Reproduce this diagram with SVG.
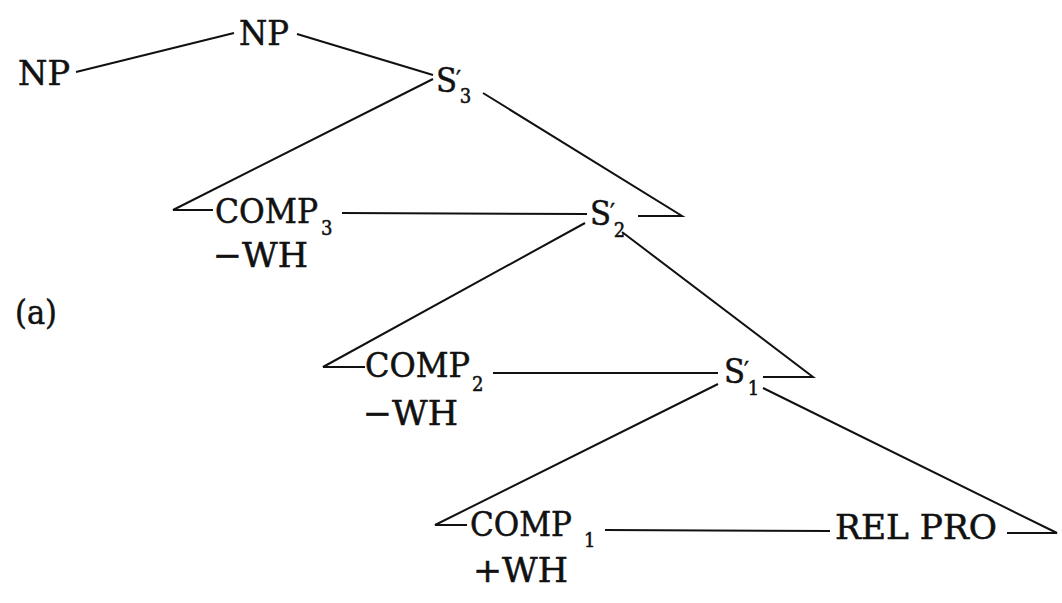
<svg xmlns="http://www.w3.org/2000/svg" width="1062" height="603" viewBox="0 0 1062 603">
  <style>
    text { font-family: "DejaVu Serif", "Liberation Serif", serif; font-stretch: condensed; fill: #111; stroke: #111; stroke-width: 0.5; font-size: 34px; }
    .sub { font-size: 20px; }
    .pr { font-size: 24px; }
    .edge { fill: none; stroke: #111; stroke-width: 2; stroke-linejoin: miter; stroke-linecap: butt; }
  </style>
  <rect width="1062" height="603" fill="#fff"/>
  <g id="connectors">
    <path class="edge" d="M76,72 L234,33"/>
    <path class="edge" d="M297,34 L433,75"/>
    <path class="edge" d="M433,79 L173,210 L213,210"/>
    <path class="edge" d="M483,93 L682,216 L638,216"/>
    <path class="edge" d="M342,213 L587,214"/>
    <path class="edge" d="M585,223 L323,367 L365,367"/>
    <path class="edge" d="M622,232 L813,377 L763,377"/>
    <path class="edge" d="M493,373 L718,373"/>
    <path class="edge" d="M718,384 L435,525 L467,525"/>
    <path class="edge" d="M763,388 L1057,533 L1007,533"/>
    <path class="edge" d="M605,530 L830,531"/>
  </g>
  <g id="np-left"><text x="18" y="85" textLength="52" lengthAdjust="spacingAndGlyphs">NP</text></g>
  <g id="np-top"><text x="239" y="45" textLength="50" lengthAdjust="spacingAndGlyphs">NP</text></g>
  <g id="s3"><text x="436" y="92">S<tspan class="pr" dx="-1" dy="-4">′</tspan><tspan class="sub" dx="-1" dy="15">3</tspan></text></g>
  <g id="comp3"><text x="215" y="223" textLength="103" lengthAdjust="spacingAndGlyphs">COMP</text><text class="sub" x="321" y="235">3</text><text x="213" y="267" textLength="95" lengthAdjust="spacingAndGlyphs">−WH</text></g>
  <g id="s2"><text x="590" y="225">S<tspan class="pr" dx="-1" dy="-4">′</tspan><tspan class="sub" dx="-1" dy="16">2</tspan></text></g>
  <g id="label-a"><text x="15" y="324" textLength="42" lengthAdjust="spacingAndGlyphs">(a)</text></g>
  <g id="comp2"><text x="365" y="377" textLength="105" lengthAdjust="spacingAndGlyphs">COMP</text><text class="sub" x="472" y="391">2</text><text x="363" y="425" textLength="95" lengthAdjust="spacingAndGlyphs">−WH</text></g>
  <g id="s1"><text x="724" y="383">S<tspan class="pr" dx="-1" dy="-4">′</tspan><tspan class="sub" dx="-1" dy="16">1</tspan></text></g>
  <g id="comp1"><text x="470" y="536" textLength="102" lengthAdjust="spacingAndGlyphs">COMP</text><text class="sub" x="584" y="547">1</text><text x="473" y="582" textLength="95" lengthAdjust="spacingAndGlyphs">+WH</text></g>
  <g id="relpro"><text x="835" y="539" textLength="162" lengthAdjust="spacingAndGlyphs">REL PRO</text></g>
</svg>
